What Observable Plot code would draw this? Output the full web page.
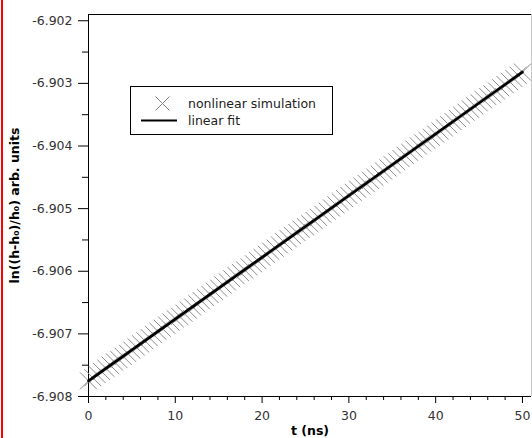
<!DOCTYPE html>
<html>
<head>
<meta charset="utf-8">
<script src="https://cdn.jsdelivr.net/npm/d3@7"></script>
<script src="https://cdn.jsdelivr.net/npm/@observablehq/plot@0.6"></script>
<style>
  html, body { margin: 0; padding: 0; background: #fff; }
  #wrap { position: relative; width: 532px; height: 438px; overflow: hidden; }
  #edge { position: absolute; left: 1px; top: 0; width: 2px; height: 438px; background: #ff0000; }
  #chart svg [aria-label="x-axis label"] text,
  #chart svg [aria-label="y-axis label"] text { font-weight: bold; fill: #000; }
  #legend { position: absolute; left: 0; top: 0; }
</style>
</head>
<body>
<div id="wrap">
  <div id="chart"></div>
  <div id="edge"></div>
  <svg id="legend" width="532" height="438"></svg>
</div>
<script>
// ---- data ----
const simT = [0,0.5,1,1.5,2,2.5,3,3.5,4,4.5,5,5.5,6,6.5,7,7.5,8,8.5,9,9.5,
  10,10.5,11,11.5,12,12.5,13,13.5,14,14.5,15,15.5,16,16.5,17,17.5,18,18.5,19,19.5,
  20,20.5,21,21.5,22,22.5,23,23.5,24,24.5,25,25.5,26,26.5,27,27.5,28,28.5,29,29.5,
  30,30.5,31,31.5,32,32.5,33,33.5,34,34.5,35,35.5,36,36.5,37,37.5,38,38.5,39,39.5,
  40,40.5,41,41.5,42,42.5,43,43.5,44,44.5,45,45.5,46,46.5,47,47.5,48,48.5,49,49.5,50];
const simV = [
  -6.90775,-6.90770,-6.90765,-6.90760,-6.90755,-6.90750,-6.90745,-6.90741,-6.90736,-6.90731,
  -6.90726,-6.90721,-6.90716,-6.90711,-6.90706,-6.90701,-6.90696,-6.90691,-6.90686,-6.90681,
  -6.90676,-6.90672,-6.90667,-6.90662,-6.90657,-6.90652,-6.90647,-6.90642,-6.90637,-6.90632,
  -6.90627,-6.90622,-6.90617,-6.90612,-6.90607,-6.90602,-6.90598,-6.90593,-6.90588,-6.90583,
  -6.90578,-6.90573,-6.90568,-6.90563,-6.90558,-6.90553,-6.90548,-6.90543,-6.90538,-6.90533,
  -6.90529,-6.90524,-6.90519,-6.90514,-6.90509,-6.90504,-6.90499,-6.90494,-6.90489,-6.90484,
  -6.90479,-6.90474,-6.90469,-6.90464,-6.90460,-6.90455,-6.90450,-6.90445,-6.90440,-6.90435,
  -6.90430,-6.90425,-6.90420,-6.90415,-6.90410,-6.90405,-6.90400,-6.90395,-6.90391,-6.90386,
  -6.90381,-6.90376,-6.90371,-6.90366,-6.90361,-6.90356,-6.90351,-6.90346,-6.90341,-6.90336,
  -6.90331,-6.90326,-6.90321,-6.90317,-6.90312,-6.90307,-6.90302,-6.90297,-6.90292,-6.90287,
  -6.90282];
const fitT = [0, 50];
const fitV = [-6.90775, -6.90282];

const xDomain = [0, 51.04];
const yDomain = [-6.908, -6.9019];
const xMajor = [0, 10, 20, 30, 40, 50];
const xMinor = [2,4,6,8,12,14,16,18,22,24,26,28,32,34,36,38,42,44,46,48];
const yMajor = [-6.908, -6.907, -6.906, -6.905, -6.904, -6.903, -6.902];
const yMinor = [-6.9075, -6.9065, -6.9055, -6.9045, -6.9035, -6.9025];
const legendLabels = ["nonlinear simulation", "linear fit"];
const xLabel = "t (ns)";
const yLabel = "ln((h-h\u2080)/h\u2080) arb. units";

const sim = simT.map((t, i) => ({t, v: simV[i]}));
const fit = fitT.map((t, i) => ({t, v: fitV[i]}));

const chart = Plot.plot({
  width: 532,
  height: 438,
  marginLeft: 88,
  marginRight: 1,
  marginTop: 14,
  marginBottom: 42,
  style: { fontFamily: "DejaVu Sans, sans-serif", fontSize: "12.5px", color: "#333", background: "#fff", overflow: "visible" },
  x: { domain: xDomain },
  y: { domain: yDomain },
  marks: [
    Plot.axisX({ ticks: xMinor, tickSize: 4, tickFormat: null, text: null, label: null, stroke: "#000" }),
    Plot.axisX({ ticks: xMajor, tickSize: 7, tickPadding: 8, tickFormat: d => String(d),
      label: xLabel, labelAnchor: "center", labelArrow: "none", labelOffset: 38, stroke: "#000", fill: "#333" }),
    Plot.axisY({ ticks: yMinor, tickSize: 6, text: null, label: null, stroke: "#000" }),
    Plot.axisY({ ticks: yMajor, tickSize: 10, tickPadding: 6, tickFormat: d => d.toFixed(3),
      label: yLabel, labelAnchor: "center", labelArrow: "none", labelOffset: 78, stroke: "#000", fill: "#333" }),
    Plot.ruleX([xDomain[1]], { stroke: "#c8c8c8" }),
    Plot.ruleY([yDomain[0]], { stroke: "#000" }),
    Plot.ruleY([yDomain[1]], { stroke: "#000" }),
    Plot.ruleX([xDomain[0]], { stroke: "#000" }),
    Plot.dot(sim, { x: "t", y: "v", symbol: "times", r: 7.8, stroke: "#8c8c8c", strokeWidth: 1 }),
    Plot.line(fit, { x: "t", y: "v", stroke: "#000", strokeWidth: 2.6 })
  ]
});
document.getElementById("chart").appendChild(chart);

// ---- legend overlay ----
const lg = d3.select("#legend");
lg.append("rect").attr("x", 130.5).attr("y", 86.5).attr("width", 202).attr("height", 48)
  .attr("fill", "#fff").attr("stroke", "#000").attr("stroke-width", 1);
const xs = 7;
lg.append("path")
  .attr("d", `M${162.5 - xs},${103.5 - xs}L${162.5 + xs},${103.5 + xs}M${162.5 - xs},${103.5 + xs}L${162.5 + xs},${103.5 - xs}`)
  .attr("stroke", "#808080").attr("stroke-width", 1).attr("fill", "none");
lg.append("line").attr("x1", 141).attr("x2", 177).attr("y1", 120.5).attr("y2", 120.5)
  .attr("stroke", "#000").attr("stroke-width", 2);
lg.selectAll("text.lt").data(legendLabels).join("text")
  .attr("x", 188).attr("y", (d, i) => 108 + i * 17)
  .attr("font-family", "DejaVu Sans, sans-serif").attr("font-size", "12.5px").attr("fill", "#222")
  .text(d => d);
</script>
</body>
</html>
